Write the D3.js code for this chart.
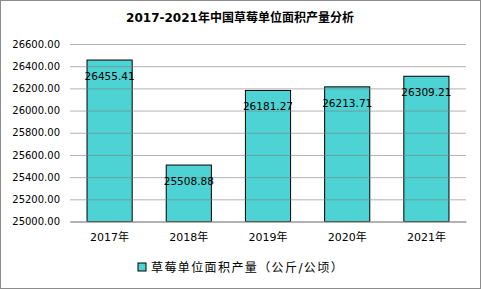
<!DOCTYPE html>
<html>
<head>
<meta charset="utf-8">
<script src="https://cdn.jsdelivr.net/npm/d3@7"></script>
<style>
  body { margin: 0; background: #fff; }
  text { font-family: "DejaVu Sans", "Noto Sans CJK SC", sans-serif; fill: #000; }
</style>
</head>
<body>
<svg id="chart" width="481" height="289"></svg>
<script>
const years = ['2017年', '2018年', '2019年', '2020年', '2021年'];
const yields = [26455.41, 25508.88, 26181.27, 26213.71, 26309.21];
const yTicks = [25000, 25200, 25400, 25600, 25800, 26000, 26200, 26400, 26600];
const title = '2017-2021年中国草莓单位面积产量分析';
const seriesName = '草莓单位面积产量（公斤/公顷）';

const margin = { top: 44, right: 15, bottom: 67, left: 70 };
const W = 481, H = 289;

const svg = d3.select('#chart');

// outer frame
svg.append('rect')
  .attr('x', 0.5).attr('y', 0.5)
  .attr('width', W - 1).attr('height', H - 1)
  .attr('fill', '#fff').attr('stroke', '#8c8c8c');

svg.append('text')
  .attr('x', 240).attr('y', 22)
  .attr('text-anchor', 'middle')
  .style('font-size', '12px').style('font-weight', 'bold')
  .text(title);

const x = d3.scaleBand()
  .domain(years)
  .range([margin.left, W - margin.right])
  .paddingInner(0.43).paddingOuter(0.215);

const y = d3.scaleLinear()
  .domain([25000, 26600])
  .range([H - margin.bottom - 0.5, margin.top]);

const g = svg.append('g');

// bars
g.selectAll('rect.bar')
  .data(yields)
  .join('rect')
  .attr('class', 'bar')
  .attr('x', (d, i) => x(years[i]))
  .attr('y', d => y(d))
  .attr('width', x.bandwidth())
  .attr('height', d => y(25000) - y(d))
  .attr('fill', '#4dd3d3')
  .attr('stroke', '#000')
  .attr('stroke-width', 1);

// y axis with gridlines (drawn over the bars, faint)
const yAxis = g.append('g')
  .attr('transform', `translate(${margin.left},0)`)
  .call(d3.axisLeft(y).tickValues(yTicks).tickFormat(d3.format('.2f'))
    .tickSize(-(W - margin.left - margin.right)).tickPadding(10));
yAxis.select('.domain').remove();
yAxis.selectAll('.tick line').attr('stroke', '#7f7f7f').attr('stroke-opacity', 0.6);
yAxis.selectAll('.tick text').style('font-size', '10px').attr('fill', '#000');

// x axis labels
const xAxis = g.append('g')
  .attr('transform', `translate(0,${y(25000)})`)
  .call(d3.axisBottom(x).tickSize(0).tickPadding(12));
xAxis.select('.domain').attr('stroke', '#8c8c8c');
xAxis.selectAll('.tick text').style('font-size', '11px').attr('fill', '#000');

// data labels
g.selectAll('text.lbl')
  .data(yields)
  .join('text')
  .attr('class', 'lbl')
  .attr('x', (d, i) => x(years[i]) + x.bandwidth() / 2)
  .attr('y', d => y(d) + 20)
  .attr('text-anchor', 'middle')
  .style('font-size', '10.5px')
  .text(d => d3.format('.2f')(d));

// legend
const leg = svg.append('g').attr('transform', 'translate(138,263)');
leg.append('rect')
  .attr('width', 8).attr('height', 8)
  .attr('fill', '#4dd3d3').attr('stroke', '#000');
leg.append('text')
  .attr('x', 13).attr('y', 8.5)
  .style('font-size', '12px').style('letter-spacing', '1.4px')
  .text(seriesName);
</script>
</body>
</html>
